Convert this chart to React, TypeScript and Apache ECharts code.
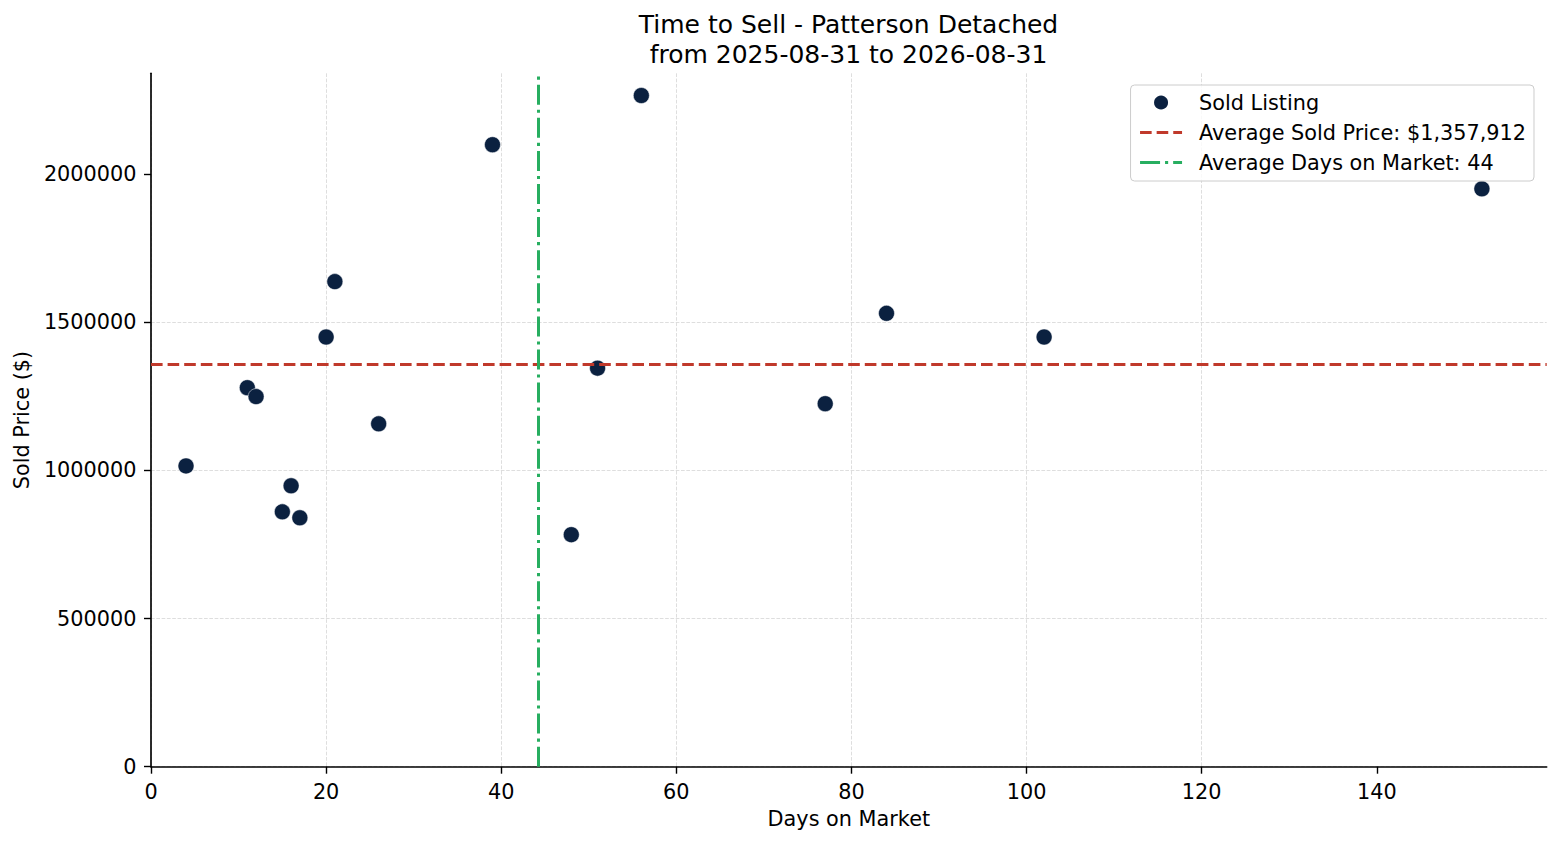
import { useEffect, useRef } from 'react'
import * as echarts from 'echarts'

// Sold listings: days on market vs sold price
const daysOnMarket = [4, 11, 12, 15, 16, 17, 20, 21, 26, 39, 48, 51, 56, 77, 84, 102, 152]
const soldPrices = [
  1015000, 1279000, 1249000, 860000, 948000, 840000, 1450000, 1637000, 1157000,
  2099000, 783000, 1345000, 2265000, 1225000, 1530000, 1450000, 1950000,
]

const AVG_PRICE = 1357912
const AVG_DAYS = 44.18

const xTicks = [0, 20, 40, 60, 80, 100, 120, 140]
const yTicks = [0, 500000, 1000000, 1500000, 2000000]

const TITLE = 'Time to Sell - Patterson Detached\nfrom 2025-08-31 to 2026-08-31'
const SCATTER_NAME = 'Sold Listing'
const PRICE_NAME = 'Average Sold Price: $1,357,912'
const DAYS_NAME = 'Average Days on Market: 44'

const FONT = "'DejaVu Sans', sans-serif"
const FS = 20.8
const INK = '#000000'
const NAVY = '#0b2140'
const RED = '#c0392b'
const GREEN = '#27ae60'
const RED_DASH = [11.6, 5]
const GREEN_DASH = [20, 5, 3.1, 5]

export default function App() {
  const ref = useRef<HTMLDivElement>(null)

  useEffect(() => {
    if (!ref.current) return
    const chart = echarts.init(ref.current, null, { renderer: 'svg' })

    const points = daysOnMarket.map((d, i) => [d, soldPrices[i]])

    const axisCommon = {
      axisLine: { show: true, lineStyle: { color: INK, width: 1.65 } },
      axisTick: { show: true, length: 7, lineStyle: { color: INK, width: 1.4 } },
      splitLine: {
        show: true,
        showMaxLine: false,
        lineStyle: { color: '#d6d6d6', width: 0.8, type: [3.7, 1.6] },
      },
    }

    chart.setOption({
      animation: false,
      textStyle: { fontFamily: FONT },
      title: {
        text: TITLE,
        left: 848.5,
        top: 10,
        padding: 0,
        textAlign: 'center',
        textStyle: {
          fontFamily: FONT,
          fontSize: 25,
          fontWeight: 'normal',
          lineHeight: 29.6,
          color: INK,
        },
      },
      grid: { left: 151, right: 13.3, top: 73.3, bottom: 78.3, containLabel: false },
      legend: {
        orient: 'vertical',
        right: 26,
        top: 85,
        padding: [7, 8, 8, 8],
        itemGap: 9,
        itemWidth: 42,
        itemHeight: 16,
        backgroundColor: 'rgba(255,255,255,0.8)',
        borderColor: '#cccccc',
        borderWidth: 1,
        borderRadius: 4,
        textStyle: {
          fontFamily: FONT,
          fontSize: FS,
          lineHeight: 20,
          color: INK,
          padding: [0, 0, 0, 12],
        },
        data: [
          { name: SCATTER_NAME, icon: 'circle' },
          { name: PRICE_NAME, itemStyle: { opacity: 0 }, lineStyle: { width: 3 } },
          { name: DAYS_NAME, itemStyle: { opacity: 0 }, lineStyle: { width: 3 } },
        ],
      },
      xAxis: {
        type: 'value',
        min: 0,
        max: 159.4,
        interval: 20,
        name: 'Days on Market',
        nameLocation: 'middle',
        nameGap: 42,
        nameTextStyle: { fontFamily: FONT, fontSize: FS, color: INK },
        ...axisCommon,
        axisTick: { ...axisCommon.axisTick, customValues: xTicks },
        axisLabel: {
          customValues: xTicks,
          margin: 14.5,
          fontFamily: FONT,
          fontSize: FS,
          lineHeight: FS,
          color: INK,
        },
      },
      yAxis: {
        type: 'value',
        min: 0,
        max: 2340000,
        interval: 500000,
        name: 'Sold Price ($)',
        nameLocation: 'middle',
        nameGap: 117,
        nameTextStyle: { fontFamily: FONT, fontSize: FS, color: INK },
        ...axisCommon,
        axisTick: { ...axisCommon.axisTick, customValues: yTicks },
        axisLabel: {
          customValues: yTicks,
          margin: 14.5,
          fontFamily: FONT,
          fontSize: FS,
          color: INK,
          formatter: (v: number) => String(v),
        },
      },
      series: [
        {
          name: SCATTER_NAME,
          type: 'scatter',
          z: 2,
          symbol: 'circle',
          symbolSize: 16,
          itemStyle: { color: NAVY, borderColor: '#ffffff', borderWidth: 0.5, opacity: 1 },
          emphasis: { disabled: true },
          data: points,
        },
        {
          name: PRICE_NAME,
          type: 'line',
          z: 3,
          symbol: 'none',
          color: RED,
          lineStyle: { color: RED, width: 3, type: RED_DASH },
          data: [],
          markLine: {
            silent: true,
            z: 6,
            symbol: ['none', 'none'],
            label: { show: false },
            lineStyle: { color: RED, width: 3, type: RED_DASH },
            emphasis: { disabled: true },
            data: [{ yAxis: AVG_PRICE }],
          },
        },
        {
          name: DAYS_NAME,
          type: 'line',
          z: 4,
          symbol: 'none',
          color: GREEN,
          lineStyle: { color: GREEN, width: 3, type: GREEN_DASH },
          data: [],
          markLine: {
            silent: true,
            z: 7,
            symbol: ['none', 'none'],
            label: { show: false },
            lineStyle: { color: GREEN, width: 3, type: GREEN_DASH },
            emphasis: { disabled: true },
            data: [{ xAxis: AVG_DAYS }],
          },
        },
      ],
    })

    return () => {
      chart.dispose()
    }
  }, [])

  return (
    <div
      ref={ref}
      style={{ position: 'fixed', left: 0, top: 0, width: 1560, height: 845, background: '#ffffff' }}
    />
  )
}
